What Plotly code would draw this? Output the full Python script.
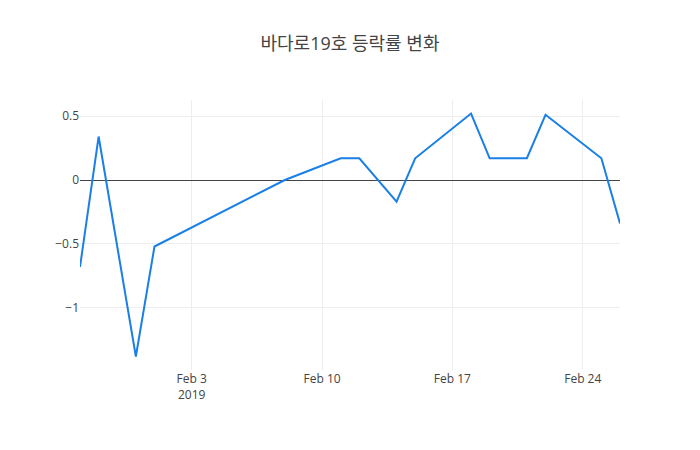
import plotly.graph_objects as go

dates = ["2019-01-28", "2019-01-29", "2019-01-31", "2019-02-01", "2019-02-08",
         "2019-02-11", "2019-02-12", "2019-02-14", "2019-02-15", "2019-02-18",
         "2019-02-19", "2019-02-21", "2019-02-22", "2019-02-25", "2019-02-26"]
rates = [-0.68, 0.34, -1.38, -0.52, 0.0,
         0.17, 0.17, -0.17, 0.17, 0.52,
         0.17, 0.17, 0.51, 0.17, -0.34]

fig = go.Figure(
    data=[go.Scatter(x=dates, y=rates, mode="lines",
                     line=dict(color="#1a7fe6", width=2))],
)

# page body adds 8px, so margins are shifted to keep the plot area in place
fig.update_layout(
    template="none",
    title=dict(text="바다로19호 등락률 변화", x=342 / 700, xanchor="center",
               y=0.92, yanchor="middle",
               font=dict(size=18, color="#444")),
    width=700, height=450,
    margin=dict(l=72, r=88, t=92, b=88),
    font=dict(family="Open Sans, Noto Sans CJK KR, sans-serif", size=12, color="#444"),
    showlegend=False,
)
fig.update_xaxes(gridcolor="#eee", showline=False, zeroline=False)
fig.update_yaxes(gridcolor="#eee", zeroline=True, zerolinecolor="#444", zerolinewidth=1)

fig.write_html("out.html")
